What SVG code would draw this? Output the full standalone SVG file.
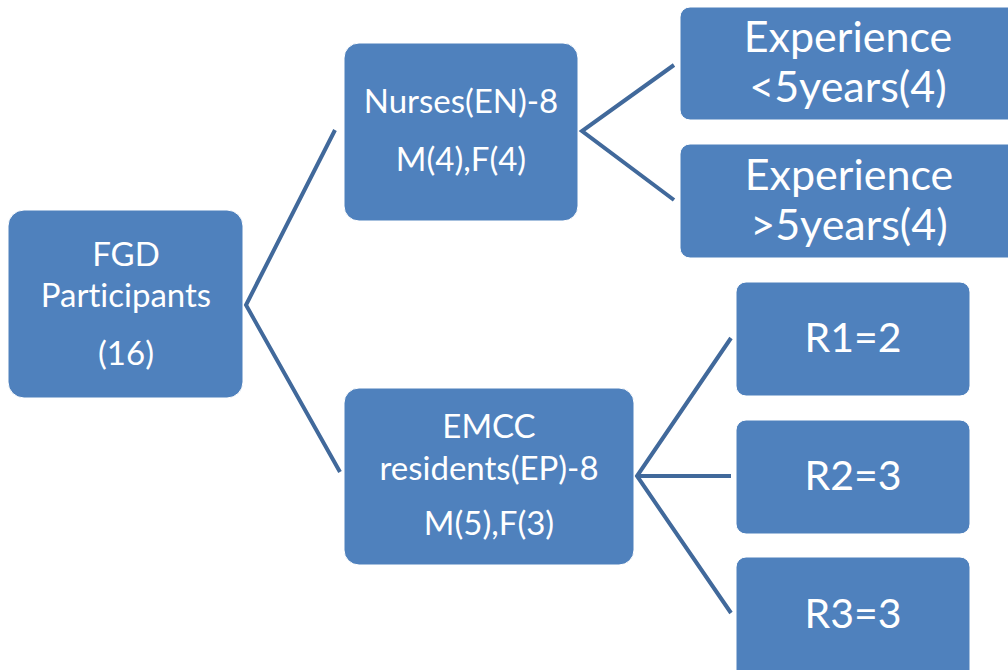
<svg xmlns="http://www.w3.org/2000/svg" width="1008" height="670" viewBox="0 0 1008 670">
<style>
.box{fill:#4f81bd;stroke:#ffffff;stroke-width:1}
.t{fill:#ffffff;font-family:Lato,"Open Sans","Liberation Sans",sans-serif;text-anchor:middle;font-variant-ligatures:none}
.s{font-size:33px}
.l{font-size:43px}
.r{font-size:41px}
.c{stroke:#41699b;stroke-width:4;fill:none}
</style>
<rect width="1008" height="670" fill="#ffffff"/>
<g id="connectors">
<polyline class="c" points="335,130 246,305 340,472"/>
<polyline class="c" points="674,65 582,131 674,200"/>
<polyline class="c" points="731,338 637,476 731,613"/>
<line class="c" x1="637" y1="476" x2="731" y2="476"/>
</g>
<g id="fgd">
<rect class="box" x="8" y="210" width="235" height="188" rx="16"/>
<text class="t s" x="126" y="266">FGD</text>
<text class="t s" x="126" y="307">Participants</text>
<text class="t s" x="126" y="365">(16)</text>
</g>
<g id="nurses">
<rect class="box" x="344" y="43" width="234" height="178" rx="15"/>
<text class="t s" x="461" y="113">Nurses(EN)-8</text>
<text class="t s" x="461" y="171">M(4),F(4)</text>
</g>
<g id="emcc">
<rect class="box" x="344" y="388" width="290" height="177" rx="15"/>
<text class="t s" x="489" y="438">EMCC</text>
<text class="t s" x="489" y="480">residents(EP)-8</text>
<text class="t s" x="489" y="535">M(5),F(3)</text>
</g>
<g id="exp1">
<rect class="box" x="680" y="7" width="345" height="113" rx="10"/>
<text class="t l" x="848" y="52">Experience</text>
<text class="t l" x="848" y="102">&lt;5years(4)</text>
</g>
<g id="exp2">
<rect class="box" x="680" y="144" width="345" height="114" rx="10"/>
<text class="t l" x="849" y="190">Experience</text>
<text class="t l" x="849" y="240">&gt;5years(4)</text>
</g>
<g id="r1">
<rect class="box" x="736" y="282" width="234" height="114" rx="10"/>
<text class="t r" x="853" y="352">R1=2</text>
</g>
<g id="r2">
<rect class="box" x="736" y="420" width="234" height="114" rx="10"/>
<text class="t r" x="853" y="490">R2=3</text>
</g>
<g id="r3">
<rect class="box" x="736" y="557" width="234" height="130" rx="10"/>
<text class="t r" x="853" y="628">R3=3</text>
</g>
</svg>
